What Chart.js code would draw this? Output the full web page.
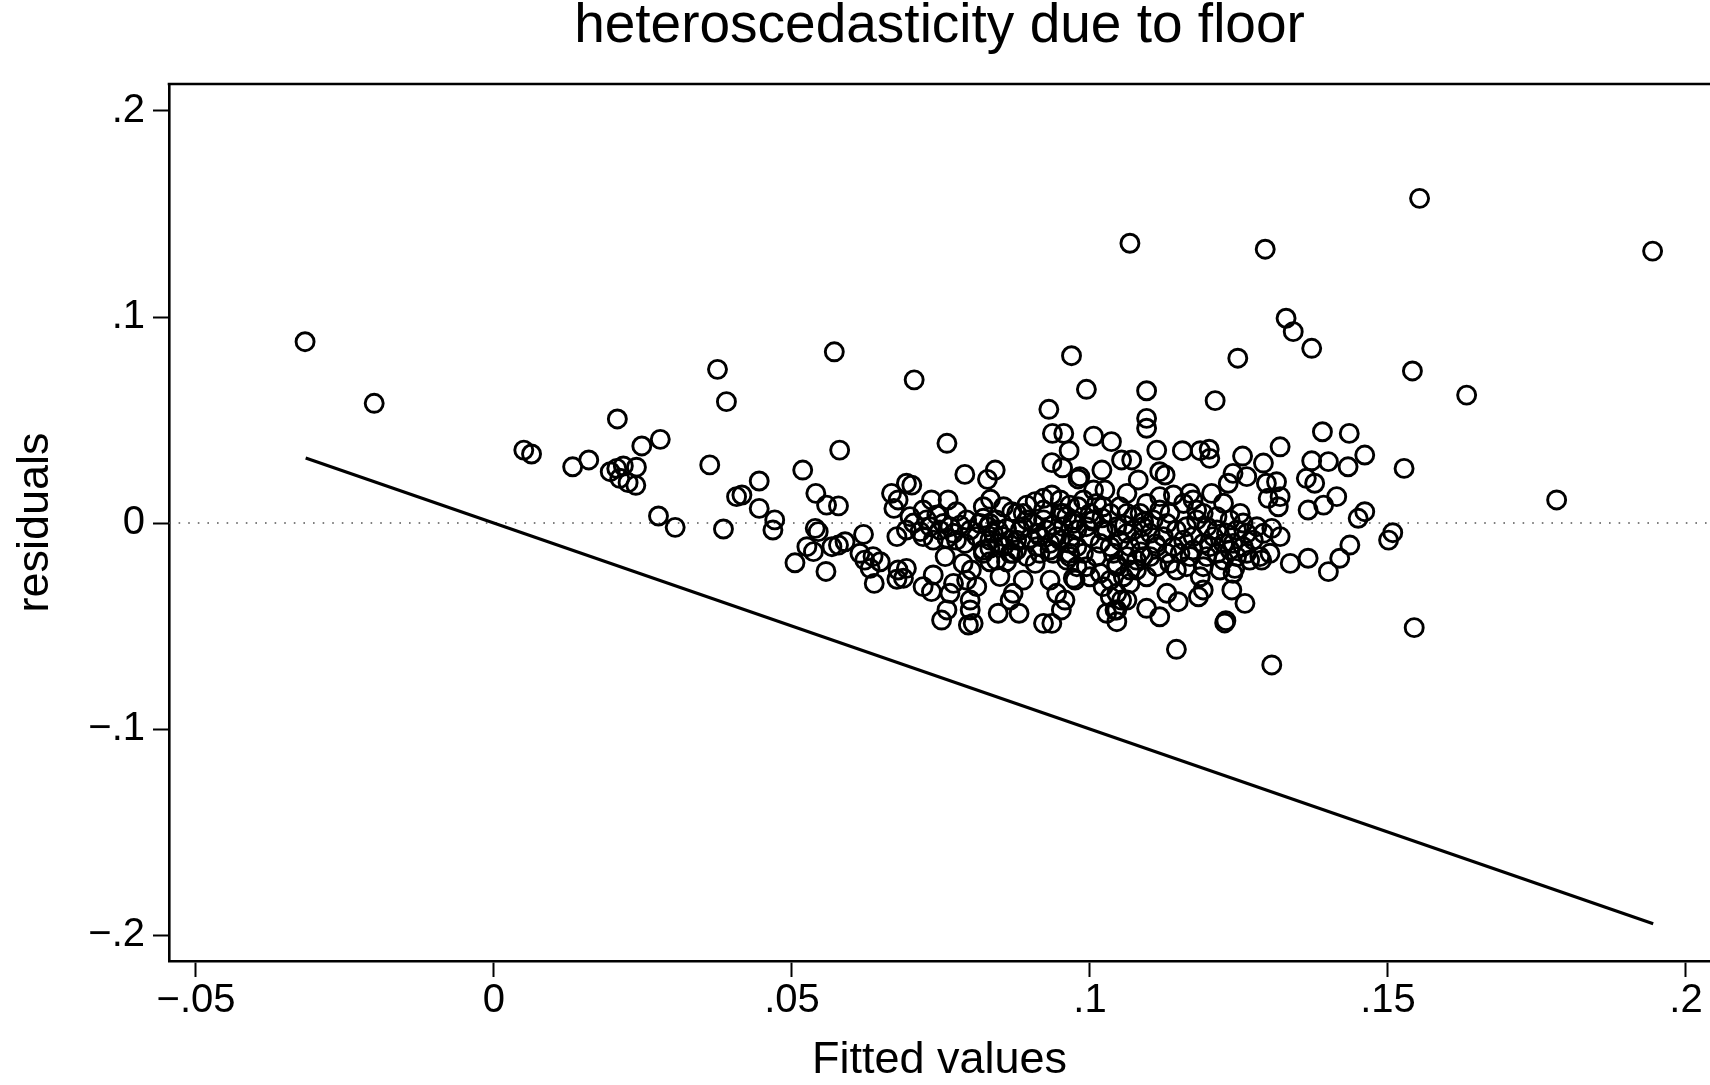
<!DOCTYPE html>
<html><head><meta charset="utf-8">
<script src="https://cdn.jsdelivr.net/npm/chart.js@4.4.1/dist/chart.umd.min.js"></script>
<style>html,body{margin:0;padding:0;background:#fff;overflow:hidden}#wrap{width:1710px;height:1085px}</style>
</head><body><div id="wrap"><canvas id="c" width="1710" height="1085"></canvas></div>
<script>
const chartTitle = 'heteroscedasticity due to floor';
const xAxisTitle = 'Fitted values';
const yAxisTitle = 'residuals';
const xTickValues = [-0.05, 0, 0.05, 0.1, 0.15, 0.2];
const xTickLabels = ['\u2212.05', '0', '.05', '.1', '.15', '.2'];
const yTickValues = [-0.2, -0.1, 0, 0.1, 0.2];
const yTickLabels = ['\u2212.2', '\u2212.1', '0', '.1', '.2'];
const xRange = [-0.05453, 0.20403];
const yRange = [-0.2126, 0.2131];

const fittedValues = [
-0.0317,-0.0201,0.0050,0.0063,0.0132,0.0159,0.0207,0.0195,0.0206,0.0217,0.0211,0.0225,0.0238,0.0239,0.0248,0.0279,0.0276,0.0304,0.0375,0.0390,0.0362,0.0385,0.0407,0.0416,0.0445,0.0445,0.0471,0.0468,0.0518,0.0580,0.0571,0.0705,
0.0540,0.0558,0.0578,0.0539,0.0544,0.0525,0.0536,0.0505,0.0557,0.0578,0.0589,0.0567,0.0620,0.0614,0.0622,0.0636,0.0648,0.0631,0.0638,0.0678,0.0692,0.0676,0.0687,0.0667,0.0678,0.0671,0.0692,0.0701,0.0676,0.0692,0.0704,0.0734,0.0762,0.0760,0.0790,0.0828,0.0841,0.0833,
0.0757,0.0737,0.0720,0.0734,0.0751,0.0760,0.0765,0.0771,0.0796,0.0804,0.0799,0.0799,0.0793,0.0801,0.0787,0.0810,0.0821,0.0832,0.0846,0.0832,0.0849,0.0846,0.0866,0.0871,0.0881,0.0860,0.0871,0.0888,0.0908,0.0922,0.0936,0.0933,0.0944,0.0952,0.0958,0.0972,0.0938,0.0950,
0.0931,0.0937,0.0956,0.0965,0.0936,0.0954,0.0980,
0.0720,0.0776,0.0743,0.0821,0.0832,0.0843,0.0869,0.0877,0.0894,0.0908,0.0922,0.0936,0.0950,0.0966,0.0980,0.0715,0.0732,0.0748,0.0765,0.0782,0.0799,0.0815,0.0829,0.0846,0.0860,0.0888,0.0905,0.0922,0.0938,0.0955,0.0972,
0.0720,0.0737,0.0760,0.0776,0.0790,0.0832,0.0855,0.0877,0.0899,0.0916,0.0933,0.0969,0.0821,0.0855,0.0877,0.0894,0.0916,0.0933,0.0966,0.0978,0.0966,
0.0969,0.0994,0.1006,0.1036,0.1067,0.1095,0.1095,0.1095,0.1210,0.1112,0.1155,0.1185,0.1200,0.1201,0.1248,0.1256,0.1294,0.1329,0.1341,0.1372,0.1319,0.1390,0.1435,0.1461,0.1372,0.1400,0.1433,0.1291,0.1363,0.1377,0.1414,0.1392,0.1366,0.1461,0.1450,0.1501,0.1508,
0.1436,0.1419,0.1400,0.1366,0.1336,0.1319,0.1302,0.1305,0.1316,0.1319,0.1299,0.1296,0.1313,0.1263,0.1240,0.1232,0.1224,0.1204,0.1252,0.1257,0.1288,0.1260,0.1238,0.1228,0.1226,0.1243,0.1145,0.1305,0.1190,0.1182,0.1148,0.1129,0.1117,0.1095,0.1112,0.1045,0.1042,0.1053,
0.1553,0.1944,0.1541,0.1632,0.1527,0.1783,0.1544,
0.0983,0.1020,0.1053,0.1070,0.1081,0.1117,0.1126,0.1062,0.1006,0.1025,0.1168,0.0989,0.1011,0.1034,0.1050,0.1073,0.1095,0.1117,0.1140,0.1157,0.1173,0.1190,0.1213,0.1235,0.1280,
0.1000,0.1017,0.1034,0.1050,0.1067,0.1084,0.1101,0.1123,0.1140,0.1157,0.1173,0.1190,0.1207,0.1224,0.1240,0.1257,0.1274,0.1291,
0.0989,0.1011,0.1039,0.1062,0.1078,0.1101,0.1129,0.1151,0.1173,0.1196,0.1213,0.1235,0.1263,0.1285,
0.0994,0.1017,0.1034,0.1056,0.1078,0.1095,0.1145,0.1162,0.1190,0.1218,0.1240,0.1022,0.1045,0.1067,0.1034,0.0975,
0.1003,0.1028,0.1058,0.1090,0.1110,0.1045,0.1020,0.1085,
0.0950,0.0972,0.0994,0.1006,0.1022,0.1045,0.1062,0.1073,0.1089,0.1106,0.1129,0.1145,0.1162,0.1179,0.1196,0.1213,0.1229,0.1246,0.1263,
0.1000,0.1022,0.1062,0.1084,0.1117,0.1134,0.1179,
0.0966,0.0978,0.1000,0.1045,0.1067,0.1089,0.1112,0.1134,0.1168,0.1185,0.1201,0.1224,0.1246,0.1268,0.1045,0.1028,0.1062,
0.0698,0.0726,0.0754,0.0771,0.0793,0.0810,0.0838,0.0866,0.0883,0.0894,0.0911,0.0927,0.0944,0.0961,
0.0821,0.0855,0.0888,0.0922,0.0955,0.0843,0.0866,0.0911,0.0961,0.0978
];
const residualValues = [
0.0880,0.0581,0.0354,0.0335,0.0273,0.0306,0.0505,0.0249,0.0265,0.0277,0.0217,0.0196,0.0183,0.0271,0.0374,0.0406,0.0034,-0.0021,0.0746,0.0589,0.0282,-0.0029,0.0128,0.0136,0.0204,0.0071,0.0015,-0.0034,0.0257,0.0354,0.0831,0.0695,
0.0144,0.0087,0.0083,-0.0026,-0.0042,-0.0115,-0.0139,-0.0193,-0.0235,-0.0107,-0.0091,-0.0115,-0.0055,-0.0147,-0.0180,-0.0163,-0.0188,-0.0220,-0.0293,-0.0228,-0.0220,-0.0273,-0.0268,0.0144,0.0112,0.0071,0.0193,0.0184,-0.0066,-0.0034,0.0000,0.0112,0.0112,0.0387,0.0236,0.0212,0.0257,0.0115,
-0.0163,-0.0252,-0.0309,-0.0333,-0.0471,-0.0422,-0.0341,-0.0293,-0.0495,-0.0487,-0.0422,-0.0374,-0.0277,-0.0228,-0.0196,-0.0309,-0.0147,-0.0123,-0.0099,-0.0188,-0.0260,-0.0438,-0.0374,-0.0341,-0.0438,-0.0188,-0.0147,-0.0277,-0.0196,-0.0487,-0.0487,-0.0277,-0.0341,-0.0422,-0.0374,-0.0268,-0.0147,-0.0083,
0.0552,0.0435,0.0435,0.0351,0.0293,0.0268,0.0214,
0.0063,0.0055,0.0039,0.0023,-0.0002,0.0015,0.0055,0.0047,0.0087,0.0104,0.0120,0.0136,0.0112,0.0087,0.0079,-0.0042,-0.0018,-0.0034,-0.0018,-0.0010,-0.0034,-0.0002,-0.0018,-0.0034,-0.0026,-0.0018,-0.0002,0.0015,-0.0010,-0.0018,-0.0002,
-0.0066,-0.0083,-0.0074,-0.0083,-0.0099,-0.0083,-0.0066,-0.0083,-0.0074,-0.0066,-0.0099,-0.0066,-0.0131,-0.0115,-0.0131,-0.0163,-0.0147,-0.0131,-0.0147,-0.0034,-0.0099,
0.0812,0.0649,0.0422,0.0395,0.1358,0.0642,0.0508,0.0460,0.0594,0.0354,0.0351,0.0351,0.0358,0.0314,0.0800,0.0325,0.1329,0.0994,0.0929,0.0848,0.0370,0.0443,0.0435,0.0330,0.0302,0.0298,0.0273,0.0291,0.0217,0.0193,0.0128,0.0087,0.0063,0.0055,0.0023,-0.0083,-0.0047,
-0.0107,-0.0171,-0.0236,-0.0171,-0.0196,-0.0066,-0.0147,-0.0026,0.0079,0.0128,0.0120,0.0193,0.0200,0.0225,0.0241,0.0193,0.0096,0.0144,0.0047,0.0000,-0.0180,-0.0390,-0.0325,-0.0474,-0.0485,-0.0220,-0.0613,-0.0689,-0.0325,-0.0358,-0.0382,-0.0341,-0.0455,-0.0414,-0.0212,-0.0479,-0.0422,-0.0374,
0.1576,0.1320,0.0738,0.0621,0.0265,0.0112,-0.0508,
0.0225,0.0257,0.0306,0.0306,0.0209,0.0249,0.0233,0.0144,0.0160,0.0160,0.0144,0.0112,0.0095,0.0047,0.0079,0.0031,0.0095,0.0128,0.0136,0.0095,0.0112,0.0047,0.0031,0.0015,-0.0018,
-0.0066,-0.0099,-0.0115,-0.0083,-0.0115,-0.0083,-0.0050,-0.0066,-0.0115,-0.0083,-0.0066,-0.0099,-0.0066,-0.0099,-0.0099,-0.0115,-0.0083,-0.0050,
-0.0147,-0.0163,-0.0147,-0.0163,-0.0180,-0.0163,-0.0147,-0.0147,-0.0131,-0.0163,-0.0147,-0.0131,-0.0147,-0.0163,
-0.0212,-0.0244,-0.0277,-0.0261,-0.0228,-0.0261,-0.0228,-0.0212,-0.0212,-0.0228,-0.0244,-0.0309,-0.0341,-0.0293,-0.0358,-0.0277,
0.0010,-0.0040,-0.0010,0.0005,-0.0100,-0.0200,0.0025,-0.0140,
0.0047,0.0015,-0.0018,0.0015,-0.0034,-0.0018,-0.0050,-0.0034,-0.0018,0.0015,-0.0002,-0.0034,-0.0018,0.0015,-0.0018,-0.0034,-0.0050,-0.0034,-0.0050,
0.0047,0.0079,0.0047,0.0047,0.0063,0.0047,0.0063,
-0.0163,-0.0212,-0.0261,-0.0212,-0.0228,-0.0163,-0.0115,-0.0196,-0.0163,-0.0261,-0.0115,-0.0180,-0.0163,-0.0180,-0.0422,-0.0438,-0.0374,
0.0031,0.0015,-0.0002,-0.0050,0.0015,-0.0066,-0.0050,-0.0083,-0.0034,0.0015,-0.0050,-0.0034,-0.0066,0.0031,
0.0079,0.0079,0.0047,0.0063,0.0047,-0.0180,-0.0147,-0.0115,-0.0180,-0.0115
];
const fitLineX = [-0.0316, 0.1945];
const fitLineY = [0.0316, -0.1945];
const zeroLineY = [0, 0];

const FONT = "'Liberation Sans', Arial, Helvetica, sans-serif";
Chart.defaults.font.family = FONT;
Chart.defaults.color = '#000';

function labelFrom(vals, labels, v) {
  for (let i = 0; i < vals.length; i++) if (Math.abs(vals[i] - v) < 1e-9) return labels[i];
  return '';
}

const frameTop = {
  id: 'frameTop',
  afterDraw(chart) {
    const {ctx, chartArea: a} = chart;
    ctx.save();
    ctx.strokeStyle = '#000';
    ctx.lineWidth = 2.6;
    ctx.beginPath();
    ctx.moveTo(a.left - 1.3, a.top);
    ctx.lineTo(a.right, a.top);
    ctx.stroke();
    ctx.restore();
  }
};

const scatterData = fittedValues.map((x, i) => ({x: x, y: residualValues[i]}));

new Chart(document.getElementById('c'), {
  type: 'scatter',
  data: {
    datasets: [
      {
        type: 'line',
        data: fitLineX.map((x, i) => ({x: x, y: fitLineY[i]})),
        borderColor: '#000', borderWidth: 3.2, pointRadius: 0, fill: false, tension: 0,
        showLine: true, order: 1
      },
      {
        type: 'scatter',
        data: scatterData,
        pointRadius: 9, pointHoverRadius: 9, pointBorderWidth: 2.9, borderWidth: 2.9,
        borderColor: '#000', pointBorderColor: '#000', backgroundColor: 'rgba(0,0,0,0)',
        pointBackgroundColor: 'rgba(0,0,0,0)', order: 2
      },
      {
        type: 'line',
        data: xRange.map((x, i) => ({x: x, y: zeroLineY[i]})),
        borderColor: '#555', borderWidth: 1.6, borderDash: [1.6, 8], pointRadius: 0,
        fill: false, showLine: true, order: 3
      }
    ]
  },
  options: {
    responsive: false,
    devicePixelRatio: 1,
    animation: false,
    events: [],
    layout: {padding: 0, autoPadding: false},
    plugins: {
      legend: {display: false},
      tooltip: {enabled: false},
      title: {
        display: true, text: chartTitle, fullSize: false, color: '#000',
        font: {size: 55, weight: 'normal', lineHeight: 0.9, family: FONT},
        padding: {top: 2, bottom: 32.5}
      }
    },
    scales: {
      x: {
        type: 'linear', position: 'bottom', min: xRange[0], max: xRange[1],
        afterBuildTicks: s => { s.ticks = xTickValues.map(v => ({value: v})); },
        afterFit: s => { s.height = 124; s.paddingLeft = 0; s.paddingRight = 0; },
        ticks: {
          callback: v => labelFrom(xTickValues, xTickLabels, v),
          font: {size: 40, lineHeight: 1.2}, color: '#000', padding: 0,
          maxRotation: 0, minRotation: 0, autoSkip: false
        },
        grid: {drawOnChartArea: false, drawTicks: true, tickLength: 16, tickWidth: 2, tickColor: '#000', color: '#000'},
        border: {display: true, color: '#000', width: 2.6},
        title: {display: true, text: xAxisTitle, color: '#000', font: {size: 45, lineHeight: 1}, padding: {top: 0, bottom: 2}}
      },
      y: {
        type: 'linear', position: 'left', min: yRange[0], max: yRange[1],
        afterBuildTicks: s => { s.ticks = yTickValues.map(v => ({value: v})); },
        afterFit: s => { s.width = 169; s.paddingTop = 0; s.paddingBottom = 0; },
        ticks: {
          callback: v => labelFrom(yTickValues, yTickLabels, v),
          font: {size: 40, lineHeight: 1.2}, color: '#000', padding: 8, autoSkip: false
        },
        grid: {drawOnChartArea: false, drawTicks: true, tickLength: 16, tickWidth: 2, tickColor: '#000', color: '#000'},
        border: {display: true, color: '#000', width: 2.6},
        title: {display: true, text: yAxisTitle, color: '#000', font: {size: 45, lineHeight: 1}, padding: {top: 13, bottom: 0}}
      }
    }
  },
  plugins: [frameTop]
});
</script>
</body></html>
